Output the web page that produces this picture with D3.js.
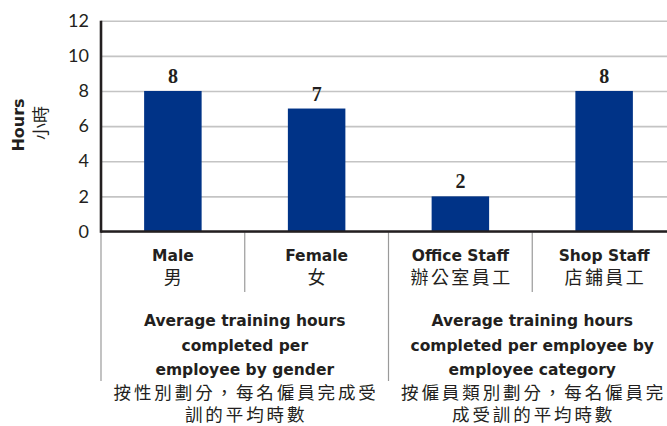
<!DOCTYPE html>
<html>
<head>
<meta charset="utf-8">
<script src="https://cdn.jsdelivr.net/npm/d3@7"></script>
<style>
  html, body { margin: 0; padding: 0; background: #fff; }
  svg { display: block; }
</style>
</head>
<body>
<svg id="chart" width="667" height="426"></svg>
<script>
const categories = ["Male", "Female", "Office Staff", "Shop Staff"];
const categoriesZh = ["男", "女", "辦公室員工", "店鋪員工"];
const values = [8, 7, 2, 8];
const yTicks = [0, 2, 4, 6, 8, 10, 12];
const yTitleEn = "Hours";
const yTitleZh = "小時";
const groupTitlesEn = [
  ["Average training hours", "completed per", "employee by gender"],
  ["Average training hours", "completed per employee by", "employee category"]
];
const groupTitlesZh = [
  ["按性別劃分，每名僱員完成受", "訓的平均時數"],
  ["按僱員類別劃分，每名僱員完", "成受訓的平均時數"]
];
const groupSizes = [2, 2];

const ink = "#231f20";
const barColor = "#003387";
const latin = "'DejaVu Sans', sans-serif";
const cjk = "'Noto Sans CJK TC', 'Noto Sans CJK SC', sans-serif";

const svg = d3.select("#chart");
const mLeft = 101, mRight = 676, mTop = 20.7, mBottom = 231.5;

const x = d3.scaleBand().domain(categories).range([mLeft, mRight])
  .paddingInner(0.6).paddingOuter(0.3);
const y = d3.scaleLinear().domain([0, 12]).range([mBottom, mTop]);
const step = x.step();
const bx = i => mLeft + i * step;

// gridlines + tick labels
const yAxis = d3.axisLeft(y).tickValues(yTicks).tickSize(-(mRight - mLeft)).tickPadding(12);
const gy = svg.append("g").attr("transform", `translate(${mLeft},0)`).call(yAxis);
gy.select(".domain").remove();
gy.selectAll(".tick line").attr("stroke", "#c4c4c4").attr("stroke-width", 1.6);
gy.selectAll(".tick text")
  .attr("fill", ink)
  .style("font-family", "Lato, sans-serif")
  .style("font-size", "18px");

// separators below axis
let idx = 0;
const groupStarts = [];
groupSizes.forEach(n => { groupStarts.push(idx); idx += n; });
groupStarts.push(idx);
groupStarts.forEach(i => {
  svg.append("line").attr("x1", bx(i)).attr("x2", bx(i))
    .attr("y1", mBottom).attr("y2", 381)
    .attr("stroke", "#9a9a9a").attr("stroke-width", 1.2);
});
categories.forEach((c, i) => {
  if (i > 0 && !groupStarts.includes(i)) {
    svg.append("line").attr("x1", bx(i)).attr("x2", bx(i))
      .attr("y1", mBottom).attr("y2", 292)
      .attr("stroke", "#9a9a9a").attr("stroke-width", 1.2);
  }
});

// bars
svg.append("g").selectAll("rect").data(values).join("rect")
  .attr("x", (d, i) => x(categories[i]))
  .attr("width", x.bandwidth())
  .attr("y", d => y(d))
  .attr("height", d => y(0) - y(d))
  .attr("fill", barColor);

// value labels
svg.append("g").selectAll("text").data(values).join("text")
  .attr("x", (d, i) => x(categories[i]) + x.bandwidth() / 2)
  .attr("y", d => y(d) - 8)
  .attr("text-anchor", "middle")
  .attr("fill", ink)
  .style("font-family", "'Liberation Serif', serif")
  .style("font-weight", "bold")
  .style("font-size", "20px")
  .text(d => d);

// axes lines
svg.append("line").attr("x1", mLeft).attr("x2", mRight)
  .attr("y1", mBottom).attr("y2", mBottom)
  .attr("stroke", ink).attr("stroke-width", 2.6);
svg.append("line").attr("x1", mLeft).attr("x2", mLeft)
  .attr("y1", mTop).attr("y2", mBottom + 1.3)
  .attr("stroke", ink).attr("stroke-width", 2.6);

// category labels
categories.forEach((c, i) => {
  const cx = x(c) + x.bandwidth() / 2;
  svg.append("text").attr("x", cx).attr("y", 260.5)
    .attr("text-anchor", "middle").attr("fill", ink)
    .style("font-family", latin).style("font-weight", "bold").style("font-size", "15.5px")
    .text(c);
  svg.append("text").attr("x", cx + 1.2).attr("y", 284)
    .attr("text-anchor", "middle").attr("fill", ink)
    .style("font-family", cjk).style("font-size", "18px").style("letter-spacing", "2.4px")
    .text(categoriesZh[i]);
});

// group titles
groupSizes.forEach((n, g) => {
  const cx = (bx(groupStarts[g]) + bx(groupStarts[g] + n)) / 2;
  groupTitlesEn[g].forEach((t, k) => {
    svg.append("text").attr("x", cx).attr("y", 326 + k * 24.6)
      .attr("text-anchor", "middle").attr("fill", ink)
      .style("font-family", latin).style("font-weight", "bold").style("font-size", "15.5px")
      .text(t);
  });
  groupTitlesZh[g].forEach((t, k) => {
    svg.append("text").attr("x", cx + 1.4).attr("y", 399 + k * 22)
      .attr("text-anchor", "middle").attr("fill", ink)
      .style("font-family", cjk).style("font-size", "17.5px").style("letter-spacing", "2.9px")
      .text(t);
  });
});

// y title
svg.append("text").attr("transform", "translate(24,125) rotate(-90)")
  .attr("text-anchor", "middle").attr("fill", ink)
  .style("font-family", latin).style("font-weight", "bold").style("font-size", "16px")
  .text(yTitleEn);
svg.append("text").attr("transform", "translate(47,123) rotate(-90)")
  .attr("text-anchor", "middle").attr("fill", ink)
  .style("font-family", cjk).style("font-size", "17px")
  .text(yTitleZh);
</script>
</body>
</html>
